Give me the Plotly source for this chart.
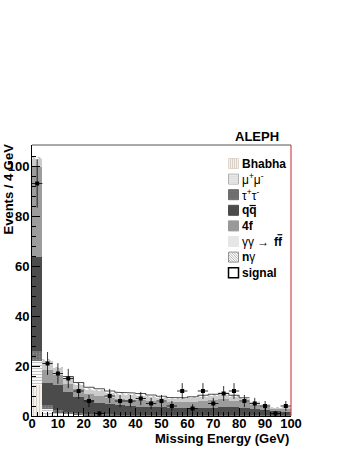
import numpy as np
import plotly.graph_objects as go

# ---------------- data ----------------
bin_edges = list(range(0, 101, 4))
bin_centers = [2, 6, 10, 14, 18, 22, 26, 30, 34, 38, 42, 46, 50,
               54, 58, 62, 66, 70, 74, 78, 82, 86, 90, 94, 98]

data_counts = [93, 21, 17, 15, 10, 6, 1, 8, 6, 6, 7, 5, 6,
               4, 10, 3, 10, 5, 9, 10, 6, 5, 4, 1, 4]

bhabha = [12.4, 1.0, 0.3, 0.2, 0.1, 0.1, 0.1, 0.1, 0.1, 0.1, 0.1, 0.1, 0.1,
          0.1, 0.1, 0.1, 0.1, 0.1, 0.1, 0.1, 0.1, 0.1, 0.1, 0.1, 0.1]
mumu = [9.6, 2.0, 1.0, 0.5, 0.3, 0.2, 0.2, 0.1, 0.1, 0.1, 0.1, 0.1, 0.1,
        0.1, 0.1, 0.1, 0.1, 0.1, 0.1, 0.1, 0.1, 0.1, 0.1, 0.1, 0.1]
tautau = [4.0, 1.5, 1.2, 0.9, 0.7, 0.6, 0.5, 0.5, 0.4, 0.4, 0.4, 0.3, 0.3,
          0.3, 0.3, 0.3, 0.3, 0.3, 0.3, 0.3, 0.3, 0.2, 0.2, 0.1, 0.1]
qqbar = [37.5, 8.8, 10.0, 8.1, 6.6, 5.5, 4.5, 4.1, 3.7, 3.4, 3.2, 3.1, 3.0,
         2.8, 2.7, 2.7, 2.8, 2.9, 3.0, 3.0, 2.8, 2.6, 2.2, 1.7, 1.5]
fourf = [36.0, 5.2, 4.0, 3.3, 3.0, 2.6, 2.8, 2.6, 2.6, 2.6, 2.6, 2.4, 2.3,
         2.2, 2.3, 2.5, 2.8, 3.0, 3.2, 2.7, 2.2, 1.6, 1.1, 0.9, 1.0]
gamgam = [3.5, 3.8, 2.7, 2.2, 2.0, 1.7, 2.0, 1.8, 1.8, 1.8, 1.8, 1.7, 1.5,
          1.4, 1.4, 1.6, 1.8, 1.9, 2.0, 1.7, 1.4, 1.0, 0.7, 0.5, 0.6]
ngamma = [0.5, 0.4, 0.3, 0.3, 0.3, 0.3, 0.3, 0.3, 0.3, 0.3, 0.3, 0.3, 0.3,
          0.3, 0.3, 0.3, 0.3, 0.3, 0.3, 0.3, 0.3, 0.2, 0.2, 0.2, 0.2]
signal = [0, 0, 0, 0.3, 0.4, 0.5, 0.5, 0.5, 0.5, 0.5, 0.5, 0.4, 0.3,
          0.2, 0.1, 0.1, 0.1, 0.1, 0.1, 0.1, 0.1, 0, 0, 0, 0]

x_ticks = [0, 10, 20, 30, 40, 50, 60, 70, 80, 90, 100]
y_ticks = [0, 20, 40, 60, 80, 100]

legend_labels = ["<b>Bhabha</b>", "μ<sup>+</sup>μ<sup>-</sup>", "τ<sup>+</sup>τ<sup>-</sup>",
                 "<b>qq</b>", "<b>4f</b>", "γγ →", "<b>n</b>γ", "<b>signal</b>"]

# ---------------- geometry (page pixels) ----------------
W, H = 349, 451
L, R, T, B = 32, 291, 145, 416
PW, PH = R - L, B - T


def px(x):
    return (x - L) / PW


def py(y):
    return (B - y) / PH


fig = go.Figure()

stack_styles = [
    (bhabha, dict(color="#f4f1ed", pattern=dict(shape="|", fgcolor="#d9d0c6", bgcolor="#f4f1ed", size=3, solidity=0.35))),
    (mumu, dict(color="#ffffff", pattern=dict(shape="-", fgcolor="#c4c4c4", bgcolor="#ffffff", size=3, solidity=0.4))),
    (tautau, dict(color="#6c6c6c", pattern=dict(shape=".", fgcolor="#8a8a8a", bgcolor="#6c6c6c", size=3, solidity=0.3))),
    (qqbar, dict(color="#4b4b4b")),
    (fourf, dict(color="#9c9c9c")),
    (gamgam, dict(color="#cccccc")),
    (ngamma, dict(color="#ffffff", pattern=dict(shape="\\", fgcolor="#b0b0b0", bgcolor="#ffffff", size=4, solidity=0.3))),
]

for vals, mk in stack_styles:
    mk = dict(mk)
    mk["line"] = dict(width=0)
    fig.add_trace(go.Bar(x=bin_centers, y=vals, width=4, marker=mk, showlegend=False,
                         hoverinfo="skip"))

# signal drawn as open step histogram on top of the stack
tot = np.sum([bhabha, mumu, tautau, qqbar, fourf, gamgam, ngamma], axis=0)
sig_top = tot + np.array(signal)
sx, sy = [], []
for i, s in enumerate(signal):
    if s > 0:
        sx += [bin_edges[i], bin_edges[i + 1]]
        sy += [sig_top[i], sig_top[i]]
fig.add_trace(go.Scatter(x=sx, y=sy, mode="lines", line=dict(color="#222222", width=0.8),
                         showlegend=False, hoverinfo="skip"))

# data points
err = np.sqrt(np.array(data_counts, dtype=float))
fig.add_trace(go.Scatter(
    x=bin_centers, y=data_counts, mode="markers",
    marker=dict(symbol="square", size=4, color="black"),
    error_y=dict(type="data", array=err, width=0, thickness=0.8, color="black"),
    error_x=dict(type="constant", value=2, width=0, thickness=0.8, color="black"),
    showlegend=False, hoverinfo="skip"))

# ---------------- legend (manual) ----------------
shapes = []
annotations = []
row0, dy, box = 163.5, 15.6, 10
bx0 = 228.5
fills = ["#f4f1ed", "#ffffff", "#6c6c6c", "#4b4b4b", "#999999", "#e6e6e6", "#ffffff", "#ffffff"]
borders = ["#e0d8d0", "#b0b0b0", "#6c6c6c", "#4b4b4b", "#999999", "#e6e6e6", "#909090", "black"]
for i, lab in enumerate(legend_labels):
    cy = row0 + i * dy
    x0, x1, y0, y1 = bx0, bx0 + box, cy - box / 2, cy + box / 2
    shapes.append(dict(type="rect", xref="paper", yref="paper",
                       x0=px(x0), x1=px(x1), y0=py(y1), y1=py(y0),
                       fillcolor=fills[i], line=dict(color=borders[i], width=1.5 if i == 7 else 1)))
    if i == 0:
        for k in range(1, 5):
            xx = x0 + k * 2
            shapes.append(dict(type="line", xref="paper", yref="paper", x0=px(xx), x1=px(xx),
                               y0=py(y1), y1=py(y0), line=dict(color="#d3c9bf", width=0.8)))
    if i == 1:
        for k in range(1, 5):
            yy = y0 + k * 2
            shapes.append(dict(type="line", xref="paper", yref="paper", x0=px(x0), x1=px(x1),
                               y0=py(yy), y1=py(yy), line=dict(color="#b8b8b8", width=0.8)))
    if i == 2:
        for a in range(3):
            for b in range(4):
                xx, yy = x0 + 2 + a * 3, y0 + 1.5 + b * 2.3
                shapes.append(dict(type="rect", xref="paper", yref="paper", x0=px(xx), x1=px(xx + 0.8),
                                   y0=py(yy + 0.8), y1=py(yy), fillcolor="#8c8c8c", line=dict(width=0)))
    if i == 3:
        # bar over the second q
        shapes.append(dict(type="line", xref="paper", yref="paper", x0=px(249.5), x1=px(255.8),
                           y0=py(cy - 4.8), y1=py(cy - 4.8), line=dict(color="black", width=1.2)))
    if i == 5:
        annotations.append(dict(xref="paper", yref="paper", x=px(271.5), y=py(cy), xanchor="left",
                                yanchor="middle", text="<b>ff</b>", showarrow=False,
                                font=dict(family="Liberation Sans", size=12, color="black")))
        shapes.append(dict(type="line", xref="paper", yref="paper", x0=px(277.5), x1=px(282.3),
                           y0=py(cy - 6.8), y1=py(cy - 6.8), line=dict(color="black", width=1.2)))
    if i == 6:
        for t in [0, 2.5, 5, 7.5]:
            shapes.append(dict(type="line", xref="paper", yref="paper", x0=px(x0 + t), y0=py(y0),
                               x1=px(x1), y1=py(y1 - t), line=dict(color="#a0a0a0", width=0.8)))
        for t in [2.5, 5, 7.5]:
            shapes.append(dict(type="line", xref="paper", yref="paper", x0=px(x0), y0=py(y0 + t),
                               x1=px(x1 - t), y1=py(y1), line=dict(color="#a0a0a0", width=0.8)))
    annotations.append(dict(xref="paper", yref="paper", x=px(240), y=py(cy), xanchor="left",
                            yanchor="middle", text=lab, showarrow=False,
                            font=dict(family="Liberation Sans", size=12, color="black")))

# frame: top grey, right red
shapes.append(dict(type="line", xref="paper", yref="paper", x0=0, x1=1, y0=1, y1=1,
                   line=dict(color="#555555", width=1)))
shapes.append(dict(type="line", xref="paper", yref="paper", x0=1, x1=1, y0=0, y1=1,
                   line=dict(color="#d04848", width=1.2)))

# titles
annotations.append(dict(xref="paper", yref="paper", x=px(281), y=py(136), xanchor="right",
                        yanchor="middle", text="<b>ALEPH</b>", showarrow=False,
                        font=dict(family="Liberation Sans", size=13, color="black")))
annotations.append(dict(xref="paper", yref="paper", x=1, y=py(438), xanchor="right",
                        yanchor="middle", text="<b>Missing Energy (GeV)</b>", showarrow=False,
                        font=dict(family="Liberation Sans", size=13, color="black")))
annotations.append(dict(xref="paper", yref="paper", x=px(8), y=py(142), xanchor="center",
                        yanchor="top", textangle=-90, text="<b>Events / 4 GeV</b>", showarrow=False,
                        font=dict(family="Liberation Sans", size=13, color="black")))

tickfont = dict(family="Liberation Sans", size=13, color="black", weight="bold")
fig.update_layout(
    template="none",
    width=W, height=H,
    margin=dict(l=L, r=W - R, t=T, b=H - B, pad=0, autoexpand=False),
    paper_bgcolor="white", plot_bgcolor="white",
    barmode="stack", bargap=0,
    showlegend=False, hovermode=False,
    shapes=shapes, annotations=annotations,
    xaxis=dict(range=[0, 100], tickvals=x_ticks, ticks="inside", ticklen=8, tickcolor="black",
               showline=True, linecolor="black", linewidth=1, showgrid=False, zeroline=False,
               tickfont=tickfont, ticklabelstandoff=-5, automargin=False,
               minor=dict(ticks="inside", dtick=2, ticklen=4, tickcolor="black", showgrid=False)),
    yaxis=dict(range=[0, 108.4], tickvals=y_ticks, ticks="inside", ticklen=8, tickcolor="black",
               showline=True, linecolor="black", linewidth=1, showgrid=False, zeroline=False,
               tickfont=tickfont, ticklabelstandoff=-1, automargin=False,
               minor=dict(ticks="inside", dtick=4, ticklen=4, tickcolor="black", showgrid=False)),
)

fig.write_html("out.html", config={"displayModeBar": False},
               post_script="document.body.style.margin='0px';")
